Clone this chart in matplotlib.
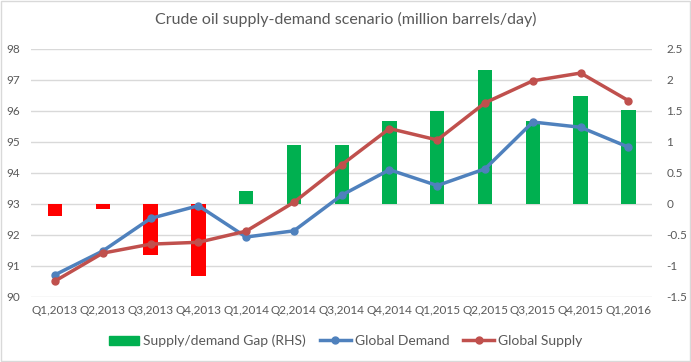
import matplotlib.pyplot as plt
import matplotlib.patches as mpatches
from matplotlib.lines import Line2D
from matplotlib.ticker import FuncFormatter
import numpy as np

plt.rcParams['font.family'] = ['Lato', 'DejaVu Sans']

quarters = ["Q1,2013", "Q2,2013", "Q3,2013", "Q4,2013", "Q1,2014", "Q2,2014", "Q3,2014",
            "Q4,2014", "Q1,2015", "Q2,2015", "Q3,2015", "Q4,2015", "Q1,2016"]
demand = [90.71, 91.48, 92.53, 92.94, 91.93, 92.13, 93.28, 94.10, 93.59, 94.13, 95.64, 95.47, 94.83]
supply = [90.51, 91.41, 91.70, 91.76, 92.12, 93.05, 94.26, 95.43, 95.06, 96.26, 96.97, 97.22, 96.33]
gap = [-0.20, -0.08, -0.83, -1.16, 0.21, 0.95, 0.95, 1.34, 1.49, 2.16, 1.34, 1.74, 1.52]

text_col = '#595959'
fig = plt.figure(figsize=(6.91, 3.62), dpi=100)
ax = fig.add_axes([0.045, 0.180, 0.899, 0.685])
ax2 = ax.twinx()

x = np.arange(len(quarters))

# bars on right axis, drawn behind lines
bar_colors = ['#FF0000' if g < 0 else '#00B050' for g in gap]
ax2.bar(x, gap, width=0.3, color=bar_colors, zorder=1)
ax2.set_ylim(-1.5, 2.5)
ax2.set_yticks(np.arange(-1.5, 2.51, 0.5))
ax2.yaxis.set_major_formatter(FuncFormatter(lambda v, p: '{:g}'.format(v)))

# lines on left axis, on top
ax.set_zorder(ax2.get_zorder() + 1)
ax.patch.set_visible(False)
ax.plot(x, demand, color='#4F81BD', lw=2.5, marker='o', ms=5)
ax.plot(x, supply, color='#C0504D', lw=2.5, marker='o', ms=5)
ax.set_ylim(90, 98)
ax.set_yticks(range(90, 99))
ax.set_xlim(-0.5, len(quarters) - 0.5)
ax.set_xticks(x)
ax.set_xticklabels(quarters)

# gridlines drawn on bar axis so they sit behind everything
for v in range(90, 99):
    ax2.axhline((v - 90) / 2 - 1.5, color='#D9D9D9', lw=1, zorder=0)

for a in (ax, ax2):
    for s in a.spines.values():
        s.set_visible(False)
    a.tick_params(length=0, labelsize=8.5, colors=text_col)
ax.tick_params(axis='y', pad=8)
ax2.tick_params(axis='y', pad=10)
ax.tick_params(axis='x', pad=6)

fig.text(0.5, 0.945, "Crude oil supply-demand scenario (million barrels/day)",
         ha='center', va='center', fontsize=11.5, color=text_col)

handles = [mpatches.Patch(color='#00B050'),
           Line2D([], [], color='#4F81BD', lw=2.5, marker='o', ms=5),
           Line2D([], [], color='#C0504D', lw=2.5, marker='o', ms=5)]
labels = ["Supply/demand Gap (RHS)", "Global Demand", "Global Supply"]
leg = fig.legend(handles, labels, loc='center', bbox_to_anchor=(0.5, 0.058), ncol=3,
                 frameon=False, fontsize=10, handlelength=2.2, columnspacing=1.0,
                 handletextpad=0.3, labelcolor=text_col)

fig.patches.append(mpatches.Rectangle((0.002, 0.003), 0.996, 0.994, transform=fig.transFigure,
                                      fill=False, edgecolor='#D9D9D9', lw=1))

fig.savefig('out.png', dpi=100, facecolor='white')
